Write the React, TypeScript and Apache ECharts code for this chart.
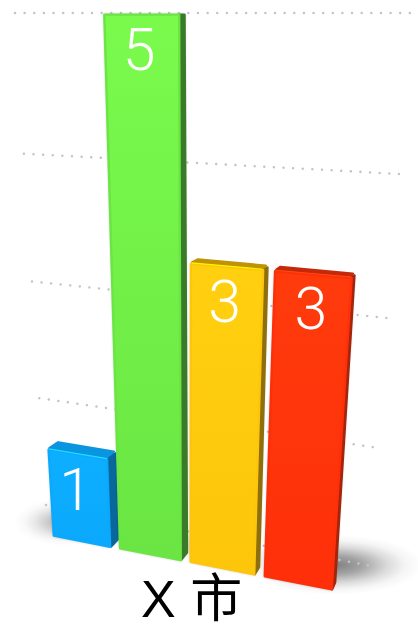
import React, { useEffect, useRef } from "react";
import * as echarts from "echarts";

const categories = ["Blue", "Green", "Yellow", "Red"];
const values = [1, 5, 3, 3];
const gridLevels = [1, 2, 3, 4, 5];
const titleText = "X 市";

const frontColors = [
  ["#0eaeff", "#0aa9fd"],
  ["#7afb4c", "#6ae543"],
  ["#ffd010", "#fdc60b"],
  ["#ff3b0c", "#fe2f09"],
];
const sideColors = ["#0a679b", "#3a7b2a", "#8f6f0c", "#a3250b"];
const topColors = ["#0a95e0", "#5fc93c", "#bf9302", "#c4290a"];
const edgeColors = ["#1fdcff", "#86ff58", "#fff200", "#ff4a12"];

type P = [number, number];
function makeHomography(p00: P, p10: P, p11: P, p01: P) {
  const [x0, y0] = p00, [x1, y1] = p10, [x2, y2] = p11, [x3, y3] = p01;
  const dx1 = x1 - x2, dx2 = x3 - x2, sx = x0 - x1 + x2 - x3;
  const dy1 = y1 - y2, dy2 = y3 - y2, sy = y0 - y1 + y2 - y3;
  const det = dx1 * dy2 - dx2 * dy1;
  const g = (sx * dy2 - dx2 * sy) / det;
  const h = (dx1 * sy - sx * dy1) / det;
  const a = x1 - x0 + g * x1, b = x3 - x0 + h * x3;
  const d = y1 - y0 + g * y1, e = y3 - y0 + h * y3;
  return (u: number, v: number): P => {
    const w = g * u + h * v + 1;
    return [(a * u + b * v + x0) / w, (d * u + e * v + y0) / w];
  };
}

// perspective planes: front of the bars, back of the bars, back wall
const front = makeHomography([53, 537], [332, 591], [369, 13], [22.5, 13]);
const back = makeHomography([62, 529], [335, 584], [371, 13], [31, 13]);
const wall = makeHomography([46, 505], [372, 566], [412, 13], [15, 13]);

const U_ORIGIN = 0.112;
const U_STEP = 0.2585;
const BAR_HALF = 0.1125;
const MAX_VALUE = 5;

function inset(points: P[], amount: number): P[] {
  const cx = points.reduce((s, p) => s + p[0], 0) / points.length;
  const cy = points.reduce((s, p) => s + p[1], 0) / points.length;
  return points.map(([x, y]) => {
    const dx = cx - x, dy = cy - y;
    const l = Math.hypot(dx, dy) || 1;
    return [x + (dx / l) * amount, y + (dy / l) * amount] as P;
  });
}

function renderBar(params: any, api: any) {
  const cs = params.coordSys;
  const i = api.value(0);
  const value = api.value(1);
  const c = api.coord([i, value]);
  const band = ((c[0] - cs.x) / cs.width) * categories.length - 0.5;
  const uc = U_ORIGIN + U_STEP * band;
  const uL = uc - BAR_HALF, uR = uc + BAR_HALF;
  const v = (cs.y + cs.height - c[1]) / cs.height;

  const fBL = front(uL, 0), fBR = front(uR, 0), fTR = front(uR, v), fTL = front(uL, v);
  const bBR = back(uR, 0), bTR = back(uR, v), bTL = back(uL, v);
  const round = (pts: P[], fill: any, stroke: string, r = 2.4) => ({
    type: "polygon",
    shape: { points: inset(pts, r * 0.7) },
    style: { fill, stroke, lineWidth: r, lineJoin: "round" },
  });
  const labelAnchor = front(uc, v);
  const atTop = value === MAX_VALUE;
  return {
    type: "group",
    children: [
      {
        type: "polygon",
        shape: { points: inset([fBL, fBR, bBR, bTR, bTL, fTL], 1.5) },
        style: { fill: sideColors[i], shadowBlur: 3, shadowColor: "rgba(0,0,0,0.4)" },
      },
      round([fBR, bBR, bTR, fTR], sideColors[i], sideColors[i]),
      ...(atTop ? [] : [round([fTL, fTR, bTR, bTL], topColors[i], topColors[i])]),
      round(
        [fBL, fBR, fTR, fTL],
        { type: "linear", x: 0, y: 0, x2: 0, y2: 1, colorStops: [
          { offset: 0, color: frontColors[i][0] },
          { offset: 1, color: frontColors[i][1] },
        ] },
        frontColors[i][1],
      ),
      ...(atTop ? [] : [{
        type: "line",
        shape: { x1: fTL[0] + 1, y1: fTL[1] + 0.6, x2: fTR[0] - 1, y2: fTR[1] + 0.6 },
        style: { stroke: edgeColors[i], lineWidth: 1.2 },
      }]),
      {
        type: "text",
        style: {
          text: String(value),
          x: labelAnchor[0] - 2,
          y: labelAnchor[1] + 36,
          fill: "#ffffff",
          fontSize: 59,
          fontFamily: "Roboto",
          fontWeight: 300,
          align: "center",
          verticalAlign: "middle",
        },
      },
    ],
  };
}

function renderWallLine(params: any, api: any) {
  const cs = params.coordSys;
  const c = api.coord([0, api.value(0)]);
  const level = ((cs.y + cs.height - c[1]) / cs.height) * MAX_VALUE;
  const v = (level - 1) / 4;
  const a = wall(0, v), b = wall(1, v);
  return {
    type: "line",
    shape: { x1: a[0], y1: a[1], x2: b[0], y2: b[1] },
    style: { stroke: "#c4c4c4", lineWidth: 2.5, lineCap: "round", lineDash: [0.01, 9.62] },
  };
}

function softShadow(cx: number, cy: number, rx: number, ry: number, rot: number, alpha: number) {
  return {
    type: "ellipse",
    x: cx,
    y: cy,
    rotation: rot,
    z: -10,
    silent: true,
    shape: { cx: 0, cy: 0, rx, ry },
    style: {
      fill: {
        type: "radial", x: 0.5, y: 0.5, r: 0.5,
        colorStops: [
          { offset: 0, color: `rgba(0,0,0,${alpha})` },
          { offset: 0.3, color: `rgba(0,0,0,${alpha * 0.72})` },
          { offset: 0.6, color: `rgba(0,0,0,${alpha * 0.28})` },
          { offset: 0.8, color: `rgba(0,0,0,${alpha * 0.08})` },
          { offset: 1, color: "rgba(0,0,0,0)" },
        ],
      },
    },
  };
}

export default function App() {
  const ref = useRef<HTMLDivElement>(null);
  useEffect(() => {
    document.body.style.margin = "0";
    document.body.style.background = "#ffffff";
    const chart = echarts.init(ref.current!, undefined, { renderer: "svg" });
    chart.setOption({
      animation: false,
      backgroundColor: "#ffffff",
      title: {
        text: titleText,
        left: 141,
        top: 573,
        padding: 0,
        textStyle: {
          color: "#000000",
          fontSize: 52,
          fontWeight: "normal",
          fontFamily: "'Liberation Sans', 'Noto Sans CJK SC'",
        },
      },
      grid: { left: 0, right: 0, top: 0, bottom: 0 },
      xAxis: { type: "category", data: categories, show: false },
      yAxis: { type: "value", min: 0, max: MAX_VALUE, interval: 1, show: false },
      graphic: {
        elements: [
          softShadow(64, 522, 50, 24, 0, 0.3),
          softShadow(335, 565, 88, 30, 0, 0.5),
          softShadow(190, 545, 150, 18, -0.19, 0.08),
        ],
      },
      series: [
        {
          type: "custom",
          coordinateSystem: "cartesian2d",
          renderItem: renderWallLine,
          data: gridLevels.map((l) => [l]),
          encode: { y: 0 },
          silent: true,
          z: 1,
        },
        {
          type: "custom",
          coordinateSystem: "cartesian2d",
          renderItem: renderBar,
          data: values.map((v, i) => [i, v]),
          encode: { x: 0, y: 1 },
          silent: true,
          z: 2,
        },
      ],
    });
    return () => chart.dispose();
  }, []);
  return <div ref={ref} style={{ width: 418, height: 624 }} />;
}
